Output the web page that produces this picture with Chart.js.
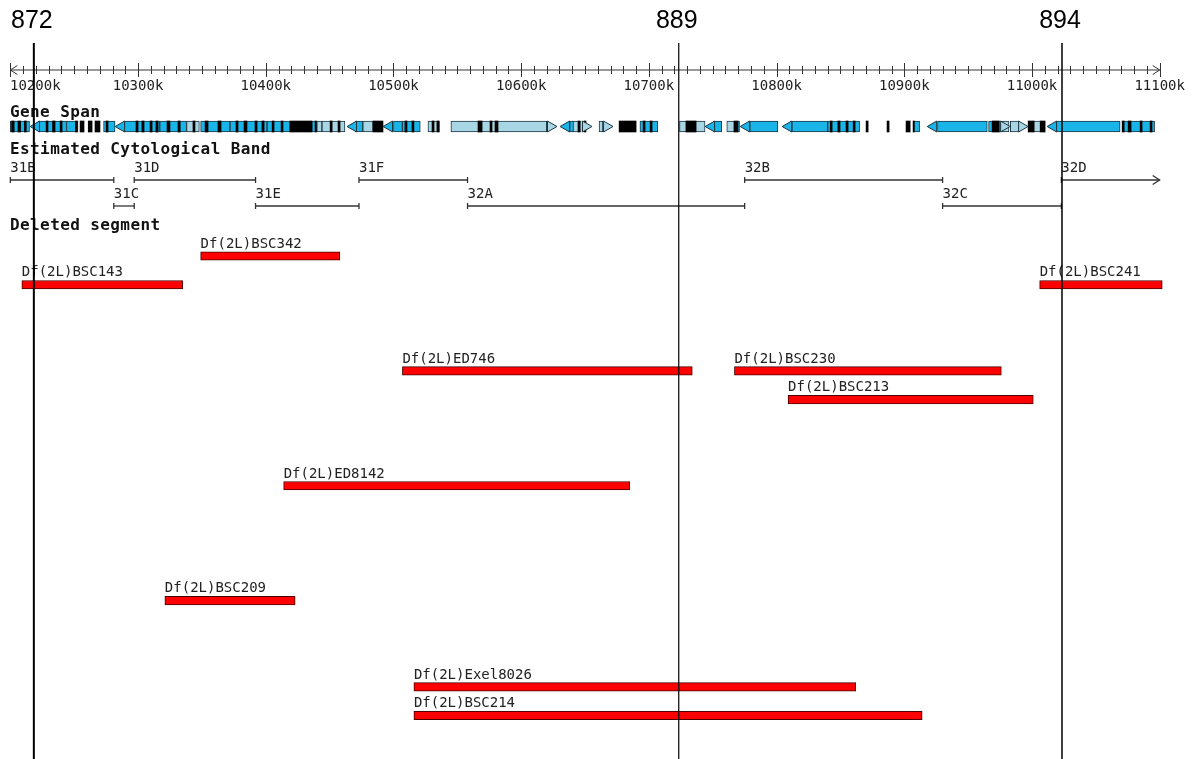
<!DOCTYPE html>
<html>
<head>
<meta charset="utf-8">
<script src="https://cdn.jsdelivr.net/npm/chart.js@4.4.1/dist/chart.umd.min.js"></script>
<style>
  html, body { margin: 0; padding: 0; background: #fff; }
  #wrap { width: 1192px; height: 759px; position: relative; }
</style>
</head>
<body>
<div id="wrap"><canvas id="map"></canvas></div>
<script>
// all positions are kb on 2L

// ruler
let majorTicks = [10200, 10300, 10400, 10500, 10600, 10700, 10800, 10900, 11000, 11100];
let tickLabels = ['10200k', '10300k', '10400k', '10500k', '10600k', '10700k', '10800k', '10900k', '11000k', '11100k'];

// estimated cytological bands
let bandNames = ['31B', '31C', '31D', '31E', '31F', '32A', '32B', '32C', '32D'];
let bandStart = [10200, 10281, 10297, 10392, 10473, 10558, 10775, 10930, 11023];
let bandEnd   = [10281, 10297, 10392, 10473, 10558, 10775, 10930, 11023, 11100];

// deleted segments (row = line in the track)
let delNames = ['Df(2L)BSC342', 'Df(2L)BSC143', 'Df(2L)BSC241', 'Df(2L)ED746', 'Df(2L)BSC230',
                'Df(2L)BSC213', 'Df(2L)ED8142', 'Df(2L)BSC209', 'Df(2L)Exel8026', 'Df(2L)BSC214'];
let delStart = [10349, 10209, 11006, 10507, 10767, 10809, 10414, 10321, 10516, 10516];
let delEnd   = [10458, 10335, 11102, 10734, 10976, 11001, 10685, 10423, 10862, 10914];
let delRow   = [0, 1, 1, 4, 4, 5, 8, 12, 15, 16];

// marker lines
let markerLabels = ['872', '889', '894'];
let markerPos = [10218.4, 10723.4, 11023.5];

// gene span glyphs
let geneBlue = [[10200, 10215], [10222, 10244], [10244, 10253], [10273, 10282], [10289, 10317],
  [10317, 10338], [10349, 10372], [10372, 10401], [10401, 10419], [10436, 10440], [10470, 10476],
  [10500, 10507], [10507, 10521], [10638, 10641], [10693, 10707], [10751, 10757], [10769, 10771],
  [10779, 10801], [10812, 10840], [10840, 10865], [10907, 10912], [10926, 10965], [10966, 10977],
  [11019, 11069], [11071, 11096]];
let geneLight = [[10338, 10348], [10440, 10444], [10444, 10462], [10476, 10484], [10527, 10536],
  [10545, 10620], [10640, 10647], [10661, 10664], [10724, 10744], [10761, 10767], [10977, 10982],
  [10983, 10990], [11001, 11007]];
let geneExon = [[10201, 10203], [10206, 10208], [10211, 10212.5], [10228, 10229.5], [10233, 10235],
  [10239, 10240.5], [10251, 10252.5], [10254.6, 10257.7], [10261, 10264], [10266.3, 10270.2],
  [10275, 10276.5], [10298.4, 10300], [10303, 10304.7], [10309.4, 10311], [10314, 10315.7],
  [10322.7, 10325], [10331.3, 10333], [10343, 10344.6], [10352.5, 10354.8], [10362.6, 10365],
  [10376.7, 10378.3], [10383, 10385.3], [10391.6, 10393.2], [10397, 10398.7], [10405, 10406.5],
  [10412, 10413.5], [10419, 10436.2], [10438.6, 10439.6], [10450.4, 10452], [10456.6, 10458.2],
  [10484, 10491.8], [10509, 10510.6], [10514.5, 10516], [10530.2, 10531.8], [10534, 10535.7],
  [10566.2, 10569.4], [10575.6, 10577.2], [10579.5, 10581.9], [10644.5, 10646], [10649.2, 10650.8],
  [10676.7, 10690], [10695.5, 10697], [10701, 10702.5], [10729, 10737], [10766.7, 10769.8],
  [10842, 10843.5], [10848, 10849.7], [10854.4, 10856], [10860, 10861.5], [10870.1, 10871.7],
  [10886.5, 10888.1], [10901.4, 10904.6], [10906.9, 10907.9], [10968.8, 10974.3], [10997, 11001.7],
  [11006.4, 11010.3], [11070.6, 11072.2], [11075.3, 11077.6], [11084.7, 11086.2], [11092.5, 11094]];
// arrow heads (centre of the head)
let arrowLeft = [10220.4, 10287, 10468.6, 10496.8, 10635.4, 10749, 10776.4, 10809.3, 10922.9, 11016.8];
let arrowRight = [10623.1, 10650.5, 10667, 10977.9, 10992];

// layout (y in canvas px, through the y scale)
const VIEW_MIN = 10191.9, VIEW_MAX = 11125.3;
const AXIS_Y = 70, GENE_Y = 126.5, BAND_Y = [180, 206];
const ROW0_Y = 256, ROW_STEP = 28.72, MARKER_TOP = 43;
const BLUE = '#19b4e8', LIGHT = '#a9d6e5', OUTLINE = '#1f3540', INK = '#222';

let rowY = r => ROW0_Y + r * ROW_STEP;

let spanBars = (spans, color, border, order) => ({
  type: 'bar', indexAxis: 'y', grouped: false, order: order,
  data: spans.map(s => ({ x: s, y: GENE_Y })),
  backgroundColor: color, borderColor: border || color, borderWidth: border ? 1 : 0,
  borderSkipped: false, barThickness: 11
});

let arrowHeads = (list, rot, color) => ({
  type: 'line', showLine: false, order: 3,
  data: list.map(v => ({ x: v, y: GENE_Y })),
  pointStyle: 'triangle', pointRotation: rot, pointRadius: 6.3,
  pointBackgroundColor: color, pointBorderColor: OUTLINE, pointBorderWidth: 1
});

let datasets = [
  spanBars(geneBlue, BLUE, OUTLINE, 5),
  spanBars(geneLight, LIGHT, OUTLINE, 5),
  spanBars(geneExon, '#000', null, 4),
  arrowHeads(arrowLeft, -90, BLUE),
  arrowHeads(arrowRight, 90, LIGHT),
  {
    type: 'bar', indexAxis: 'y', grouped: false, order: 3,
    data: delNames.map((n, i) => ({ x: [delStart[i], delEnd[i]], y: rowY(delRow[i]) })),
    backgroundColor: '#ff0000', borderColor: '#4a0000', borderWidth: 1,
    borderSkipped: false, barThickness: 8.5
  }
];
const DEL_INDEX = datasets.length - 1;

bandNames.forEach((n, i) => {
  datasets.push({
    type: 'line', order: 3,
    data: [{ x: bandStart[i], y: BAND_Y[i % 2] }, { x: bandEnd[i], y: BAND_Y[i % 2] }],
    borderColor: '#333', borderWidth: 1.3,
    pointStyle: 'line', pointRotation: 90,
    pointRadius: i === bandNames.length - 1 ? [3, 0] : 3,
    pointBorderColor: '#333', pointBorderWidth: 1.3
  });
});

markerPos.forEach((v, i) => {
  datasets.push({
    type: 'line', order: 0,
    data: [{ x: v, y: MARKER_TOP }, { x: v, y: 759 }],
    borderColor: '#000', borderWidth: [2, 1.2, 1.5][i], pointRadius: 0
  });
});

function chevron(ctx, x, y, dir) {
  ctx.beginPath();
  ctx.moveTo(x - dir * 7, y - 4.5);
  ctx.lineTo(x, y);
  ctx.lineTo(x - dir * 7, y + 4.5);
  ctx.stroke();
}

// ruler, headers and labels
let mapText = {
  id: 'mapText',
  beforeDatasetsDraw(chart) {
    let ctx = chart.ctx, xs = chart.scales.x, ys = chart.scales.y;
    let ay = ys.getPixelForValue(AXIS_Y);
    let x0 = xs.getPixelForValue(majorTicks[0]);
    let x1 = xs.getPixelForValue(majorTicks[majorTicks.length - 1]);
    ctx.save();
    ctx.strokeStyle = '#333';
    ctx.lineWidth = 1;
    ctx.beginPath();
    ctx.moveTo(x0, ay); ctx.lineTo(x1, ay);
    for (let v = majorTicks[0]; v <= majorTicks[majorTicks.length - 1]; v += 10) {
      let px = Math.round(xs.getPixelForValue(v)) + 0.5;
      let h = majorTicks.includes(v) ? 7 : 4;
      ctx.moveTo(px, ay - h); ctx.lineTo(px, ay + h);
    }
    ctx.stroke();
    chevron(ctx, x0, ay, -1);
    chevron(ctx, x1, ay, 1);

    ctx.fillStyle = INK;
    ctx.font = '14px "DejaVu Sans Mono"';
    ctx.textBaseline = 'alphabetic';
    majorTicks.forEach((v, i) => {
      let w = ctx.measureText(tickLabels[i]).width;
      let lx = Math.max(xs.getPixelForValue(v) - w / 2, 10);
      lx = Math.min(lx, chart.width - w - 2);
      ctx.fillText(tickLabels[i], lx, 90);
    });

    // band labels
    bandNames.forEach((n, i) => {
      let lx = Math.max(xs.getPixelForValue(bandStart[i]), 10);
      ctx.fillText(n, lx, ys.getPixelForValue(BAND_Y[i % 2]) - 8);
    });
    let lastY = ys.getPixelForValue(BAND_Y[(bandNames.length - 1) % 2]);
    ctx.strokeStyle = '#333';
    ctx.lineWidth = 1.3;
    chevron(ctx, xs.getPixelForValue(bandEnd[bandEnd.length - 1]), lastY, 1);

    // deletion labels, just above each bar
    let meta = chart.getDatasetMeta(DEL_INDEX);
    meta.data.forEach((el, i) => {
      let left = Math.min(el.x, el.base);
      ctx.fillText(delNames[i], left, el.y - el.height / 2 - 4);
    });

    // track headers
    ctx.font = 'bold 16px "DejaVu Sans Mono"';
    ctx.letterSpacing = '0.4px';
    ctx.fillStyle = '#111';
    ctx.fillText('Gene Span', 10, 117);
    ctx.fillText('Estimated Cytological Band', 10, 154);
    ctx.fillText('Deleted segment', 10, 229.5);
    ctx.letterSpacing = '0px';

    // marker numbers
    ctx.font = '25px "Liberation Sans", Arial, sans-serif';
    ctx.fillStyle = '#000';
    ctx.textAlign = 'center';
    markerPos.forEach((v, i) => {
      ctx.fillText(markerLabels[i], xs.getPixelForValue(v) - 2, 27.5);
    });
    ctx.restore();
  }
};

new Chart(document.getElementById('map'), {
  type: 'bar',
  data: { datasets: datasets },
  options: {
    responsive: true,
    maintainAspectRatio: false,
    animation: false,
    events: [],
    layout: { padding: 0, autoPadding: false },
    plugins: { legend: { display: false }, tooltip: { enabled: false } },
    scales: {
      x: { type: 'linear', min: VIEW_MIN, max: VIEW_MAX, display: false, offset: false },
      y: { type: 'linear', min: 0, max: 759, reverse: true, display: false, offset: false }
    }
  },
  plugins: [mapText]
});
</script>
</body>
</html>
